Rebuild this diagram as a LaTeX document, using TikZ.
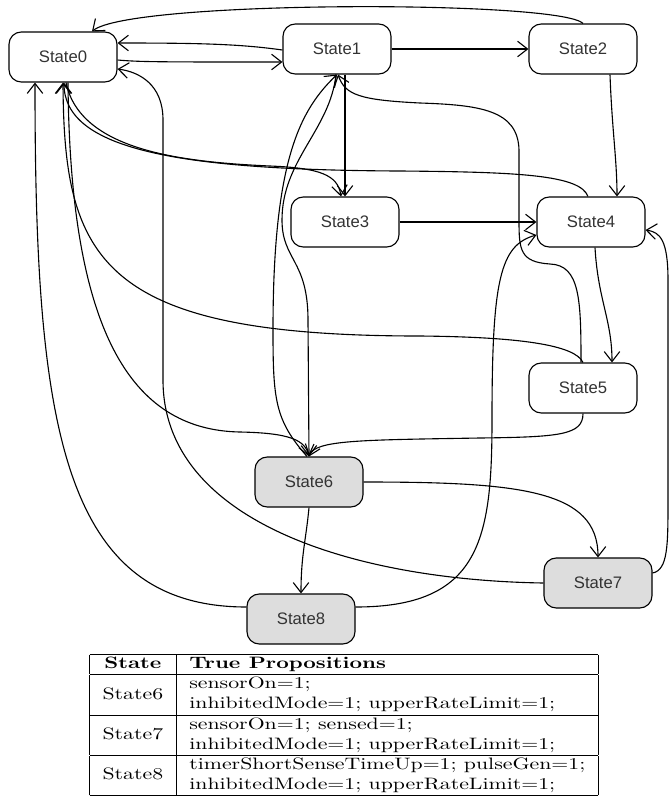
\documentclass[tikz,border=0pt]{standalone}
\usepackage{fontspec}
\usepackage{graphicx}
\usetikzlibrary{calc}
\usetikzlibrary{arrows.meta}
\newfontfamily\statefont{Liberation Sans}
\definecolor{stategray}{RGB}{221,221,221}

\begin{document}
\begin{tikzpicture}[x=0.45pt,y=-0.45pt,>={Straight Barb[length=4.5pt,width=7pt]},line width=0.5pt,
        statenode/.style={draw,rounded corners=5.5pt,minimum width=48.6pt,minimum height=22.5pt,
            inner sep=0pt,font=\statefont\fontsize{7.5}{9}\selectfont,text=black!80},
        marked/.style={statenode,fill=stategray}]
    \useasboundingbox (0,0) rectangle (671,809);
    % states
    \node[statenode] (s0) at (63,57) {State0};
    \node[statenode] (s1) at (337,49) {State1};
    \node[statenode] (s2) at (583,49) {State2};
    \node[statenode] (s3) at (345,222) {State3};
    \node[statenode] (s4) at (591,222) {State4};
    \node[statenode] (s5) at (583,388) {State5};
    \node[marked] (s6) at (309,482) {State6};
    \node[marked] (s7) at (598,583) {State7};
    \node[marked] (s8) at (301,619) {State8};
    % transitions
    \draw[->] (s2.north) .. controls (560,0) and (130,0) .. ($(s0.north)+(29,0)$);
    \draw[->] ($(s1.west)+(0,1)$) .. controls (240,44) and (200,43) .. ($(s0.east)+(0,-14)$);
    \draw[->] ($(s0.east)+(0,3)$) .. controls (140,62) and (160,62) .. ($(s1.west)+(0,13)$);
    \draw[->] (s1) -- (s2);
    \draw[->] ($(s2.south)+(27,0)$) .. controls (612,130) and (617,160) .. ($(s4.north)+(26,0)$);
    \draw[->] ($(s1.south)+(8,0)$) -- (s3.north);
    \draw[->] ($(s0.south)+(3,0)$) .. controls (80,150) and (180,162) .. (270,166)
        .. controls (320,168) and (338,175) .. ($(s3.north)+(-4,0)$);
    \draw[->] ($(s4.north)+(-3,0)$) .. controls (580,175) and (520,172) .. (400,171)
        .. controls (180,170) and (64,150) .. ($(s0.south)+(1,0)$);
    \draw[->] (s5.north) .. controls (575,345) and (520,337) .. (420,336)
        .. controls (100,336) and (64,260) .. (s0.south);
    \draw[->] ($(s0.south)+(5,0)$) .. controls (70,330) and (130,430) .. (240,432)
        .. controls (290,433) and (305,440) .. (s6.north);
    \draw[->] ($(s8.west)+(0,-12)$) .. controls (60,607) and (35,420) .. ($(s0.south)+(-28,0)$);
    \draw[->] ($(s8.east)+(0,-12)$) .. controls (480,607) and (492,540) .. (492,420)
        .. controls (492,280) and (500,245) .. ($(s4.west)+(0,13)$);
    \draw[->] (s7.west) .. controls (350,580) and (163,520) .. (163,380) -- (163,120)
        .. controls (163,85) and (140,72) .. ($(s0.east)+(0,12)$);
    \draw[->] ($(s6.north)+(-2,0)$) .. controls (275,420) and (273,400) .. (273,330)
        .. controls (273,160) and (300,110) .. (s1.south);
    \draw[->] ($(s1.south)+(-1,0)$) .. controls (330,130) and (282,160) .. (282,220)
        .. controls (282,260) and (308,260) .. (308,320) -- (s6.north);
    \draw[->] ($(s5.north)+(-2,0)$) .. controls (581,300) and (580,265) .. (550,264)
        .. controls (520,262) and (519,250) .. (519,220) -- (519,150)
        .. controls (518,110) and (480,105) .. (420,103)
        .. controls (360,100) and (345,95) .. ($(s1.south)+(1,0)$);
    \draw[->] (s3) -- (s4);
    \draw[->] ($(s4.south)+(4,0)$) .. controls (598,300) and (612,320) .. ($(s5.north)+(29,0)$);
    \draw[->] ($(s7.east)+(0,-10)$) .. controls (668,570) and (668,545) .. (668,500) -- (668,280)
        .. controls (668,240) and (660,232) .. ($(s4.east)+(0,8)$);
    \draw[->] (s5.south) .. controls (583,435) and (560,437) .. (480,438)
        .. controls (360,440) and (315,440) .. (s6.north);
    \draw[->] (s6.east) .. controls (520,482) and (598,490) .. (s7.north);
    \draw[->] (s6.south) .. controls (306,540) and (301,555) .. (s8.north);
    % propositions table
    \node[inner sep=0pt] (props) at (344,725) {\resizebox*{229pt}{64pt}{%
        \begin{tabular}{|c|l|}
            \hline
            \textbf{State} & \textbf{True Propositions}\\
            \hline
            State6 & \begin{tabular}[c]{@{}l@{}}sensorOn=1;\\inhibitedMode=1; upperRateLimit=1;\end{tabular}\\
            \hline
            State7 & \begin{tabular}[c]{@{}l@{}}sensorOn=1; sensed=1;\\inhibitedMode=1; upperRateLimit=1;\end{tabular}\\
            \hline
            State8 & \begin{tabular}[c]{@{}l@{}}timerShortSenseTimeUp=1; pulseGen=1;\\inhibitedMode=1; upperRateLimit=1;\end{tabular}\\
            \hline
        \end{tabular}}};
\end{tikzpicture}
\end{document}
